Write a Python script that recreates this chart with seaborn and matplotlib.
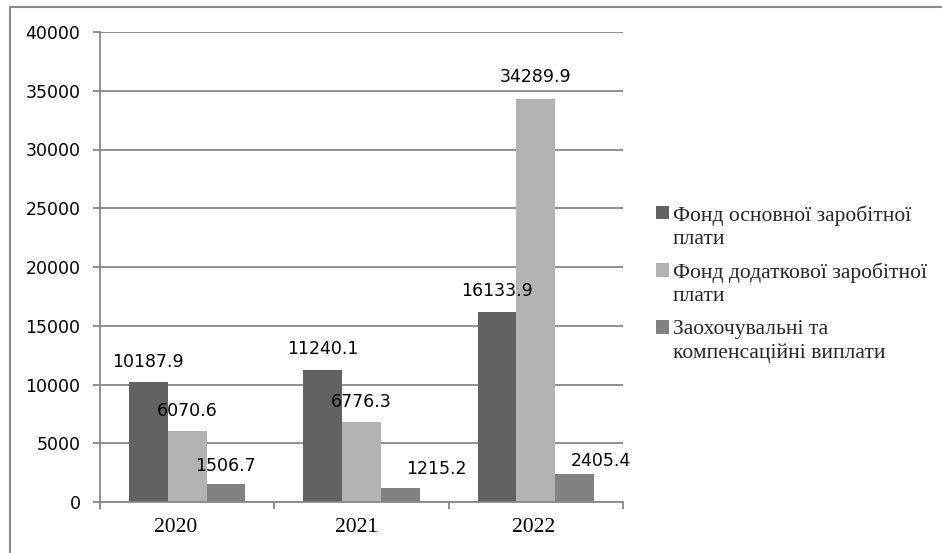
import pandas as pd
import matplotlib
matplotlib.use('Agg')
import matplotlib.pyplot as plt
import matplotlib.patches as mpatches
import matplotlib.transforms as mtransforms
from matplotlib.legend_handler import HandlerPatch
from matplotlib.lines import Line2D
import seaborn as sns

years = ['2020', '2021', '2022']
series = ['Фонд основної заробітної\nплати',
          'Фонд додаткової заробітної\nплати',
          'Заохочувальні та\nкомпенсаційні виплати']
osnovna = [10187.9, 11240.1, 16133.9]
dodatkova = [6070.6, 6776.3, 34289.9]
zaohoch = [1506.7, 1215.2, 2405.4]
colors = ['#626262', '#b3b3b3', '#828282']

rows = []
for s, vals in zip(series, [osnovna, dodatkova, zaohoch]):
    for y, v in zip(years, vals):
        rows.append({'year': y, 'series': s, 'value': v})
df = pd.DataFrame(rows)

sns.set_style('white')
plt.rcParams['font.family'] = ['DejaVu Sans']

fig = plt.figure(figsize=(9.42, 5.53), dpi=100)
ax = fig.add_axes([100/942, 1 - 502/553, 523/942, 470/553])

sns.barplot(data=df, x='year', y='value', hue='series', palette=colors,
            width=0.667, saturation=1, ax=ax, legend=False, linewidth=0)

grid_c = '#878787'
ax.set_ylim(0, 40000)
ax.set_xlim(-0.5, 2.5)
ax.set_yticks(range(0, 40001, 5000))
ax.yaxis.grid(True, color=grid_c, linewidth=1.3)
ax.set_axisbelow(True)
for sp in ['top', 'right']:
    ax.spines[sp].set_visible(False)
for sp in ['left', 'bottom']:
    ax.spines[sp].set_color(grid_c)
    ax.spines[sp].set_linewidth(1.3)
ax.set_xlabel('')
ax.set_ylabel('')
ax.tick_params(axis='y', left=True, length=5, width=1.3, color=grid_c,
               pad=9, labelsize=12.5, labelcolor='black')
ax.set_xticks([-0.5, 0.5, 1.5, 2.5], minor=True)
ax.tick_params(axis='x', which='minor', bottom=True, length=5, width=1.3, color=grid_c)
ax.tick_params(axis='x', which='major', length=0, pad=11.5, labelcolor='black')
# year labels sit a little left of the group centre in the original
year_shift = [-8, -3.5, -1.5]
for t, dx in zip(ax.get_xticklabels(), year_shift):
    t.set_fontfamily('Liberation Serif')
    t.set_fontsize(15.5)
    t.set_transform(t.get_transform() +
                    mtransforms.ScaledTranslation(dx / 72, 0, fig.dpi_scale_trans))

# value label offsets in points, per series then per year
offsets = [[(0, 7.8), (0, 8.8), (0, 9)],
           [(0, 7.4), (0, 8.1), (0, 9.3)],
           [(0, 6.7), (26, 6.7), (19, 2.5)]]
for i, cont in enumerate(ax.containers):
    for j, bar in enumerate(cont):
        v = bar.get_height()
        dx, dy = offsets[i][j]
        ax.annotate(f'{v:.1f}', (bar.get_x() + bar.get_width() / 2, v),
                    xytext=(dx, dy), textcoords='offset points',
                    ha='center', va='bottom', fontsize=12.5, color='black')

def top_square(legend, orig_handle, xdescent, ydescent, width, height, fontsize):
    s = 0.62 * fontsize
    return mpatches.Rectangle((-xdescent, -ydescent + 0.65 * fontsize), s, s)

handles = [mpatches.Patch(facecolor=c, edgecolor='none') for c in colors]
leg = fig.legend(handles, series, loc='upper left', bbox_to_anchor=(656/942, 1 - 205/553),
                 frameon=False, borderpad=0, borderaxespad=0, handlelength=0.62,
                 handleheight=0.62, handletextpad=0.15, labelspacing=0.62,
                 prop={'family': 'Liberation Serif', 'size': 15.5},
                 handler_map={mpatches.Patch: HandlerPatch(patch_func=top_square)})
for t in leg.get_texts():
    t.set_linespacing(1.32)

frame_c = '#8c8c8c'
fig.add_artist(Line2D([10/942, 10/942], [0, 1 - 7/553], color=frame_c, linewidth=1.5))
fig.add_artist(Line2D([10/942, 1], [1 - 7/553, 1 - 7/553], color=frame_c, linewidth=1.5))

fig.savefig('out.png', dpi=100)
